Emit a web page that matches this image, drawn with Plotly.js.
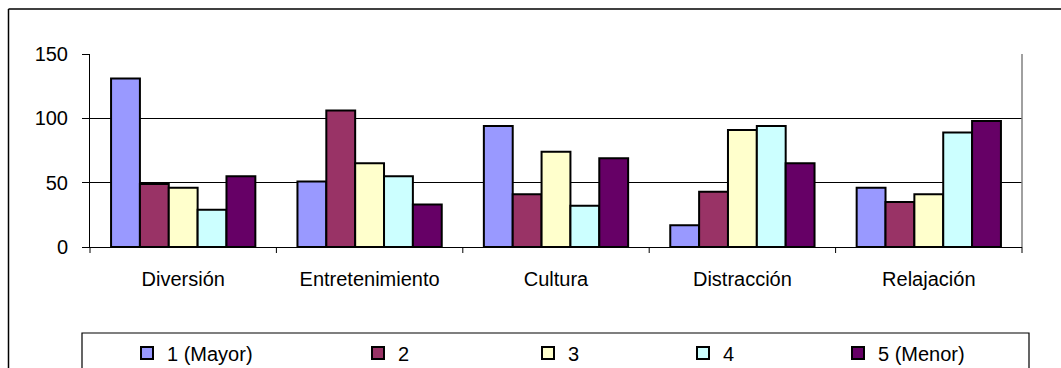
<!DOCTYPE html>
<html>
<head>
<meta charset="utf-8">
<script src="https://cdn.plot.ly/plotly-3.0.1.min.js"></script>
<style>
html,body{margin:0;padding:0;background:#fff;}
#chart{width:1061px;height:368px;}
</style>
</head>
<body>
<div id="chart"></div>
<script>
var categories = ["Diversión", "Entretenimiento", "Cultura", "Distracción", "Relajación"];
var seriesNames = ["1 (Mayor)", "2", "3", "4", "5 (Menor)"];
var s1 = [131, 51, 94, 17, 46];
var s2 = [49, 106, 41, 43, 35];
var s3 = [46, 65, 74, 91, 41];
var s4 = [29, 55, 32, 94, 89];
var s5 = [55, 33, 69, 65, 98];
var yTicks = [0, 50, 100, 150];

var seriesValues = [s1, s2, s3, s4, s5];
var colors = ["#9999FF", "#993366", "#FFFFCC", "#CCFFFF", "#660066"];
var legendIds = ["legend", "legend2", "legend3", "legend4", "legend5"];
var legendPx = [127, 358, 528, 683, 838];

var L = 90, R = 1022, T = 54, B = 247;
function px2x(p){ return (p - L) / (R - L); }
function py2y(p){ return (B - p) / (B - T); }

var traces = seriesValues.map(function(v, i){
  return {
    type: "bar",
    x: categories,
    y: v,
    name: seriesNames[i],
    legend: legendIds[i],
    marker: {color: colors[i], line: {color: "#000", width: 2}},
    hoverinfo: "x+y+name"
  };
});

var font = {family: "Liberation Sans, Arial, sans-serif", size: 20, color: "#000"};

var layout = {
  width: 1061, height: 368,
  margin: {l: L, r: 1061 - R, t: T, b: 368 - B, pad: 0, autoexpand: false},
  paper_bgcolor: "#fff", plot_bgcolor: "#fff",
  font: font,
  barmode: "group",
  bargap: 0.226,
  bargroupgap: 0,
  showlegend: true,
  xaxis: {
    type: "category",
    showgrid: false,
    showline: true, linecolor: "#000", linewidth: 1,
    ticks: "", tickfont: font,
    ticklabelstandoff: 14,
    zeroline: false,
    automargin: false,
    fixedrange: true
  },
  yaxis: {
    range: [0, 150],
    tickvals: yTicks,
    ticktext: yTicks.map(String),
    showgrid: true, gridcolor: "#000", gridwidth: 1,
    showline: true, linecolor: "#000", linewidth: 1,
    ticks: "outside", ticklen: 7, tickcolor: "#000", tickwidth: 1,
    ticklabelstandoff: 10,
    tickfont: font,
    zeroline: false,
    automargin: false,
    fixedrange: true
  },
  shapes: [],
  annotations: []
};

// category boundary tick marks
for (var k = 0; k <= categories.length; k++) {
  layout.shapes.push({type: "line", xref: "paper", yref: "paper",
    x0: k / categories.length, x1: k / categories.length,
    y0: 0, y1: py2y(B + 6), line: {color: "#000", width: 1}});
}
// plot area border (gray right)
layout.shapes.push({type: "line", xref: "paper", yref: "paper", x0: 1, x1: 1, y0: 0, y1: 1,
  line: {color: "#808080", width: 1.5}});
// outer chart frame
layout.shapes.push({type: "line", xref: "paper", yref: "paper", x0: px2x(8.5), x1: px2x(1070), y0: py2y(9), y1: py2y(9),
  line: {color: "#000", width: 1.5}});
layout.shapes.push({type: "line", xref: "paper", yref: "paper", x0: px2x(8.5), x1: px2x(8.5), y0: py2y(9), y1: py2y(380),
  line: {color: "#000", width: 1.5}});
// legend box
layout.shapes.push({type: "rect", xref: "paper", yref: "paper", x0: px2x(82), x1: px2x(1029), y0: py2y(333), y1: py2y(380),
  line: {color: "#000", width: 1.2}, fillcolor: "rgba(0,0,0,0)"});

legendIds.forEach(function(id, i){
  layout[id] = {
    orientation: "h",
    x: px2x(legendPx[i]), xanchor: "left",
    y: py2y(353), yanchor: "middle",
    bgcolor: "rgba(0,0,0,0)", borderwidth: 0,
    font: font,
    itemclick: false, itemdoubleclick: false
  };
});

Plotly.newPlot("chart", traces, layout, {displayModeBar: false, staticPlot: true});
</script>
</body>
</html>
